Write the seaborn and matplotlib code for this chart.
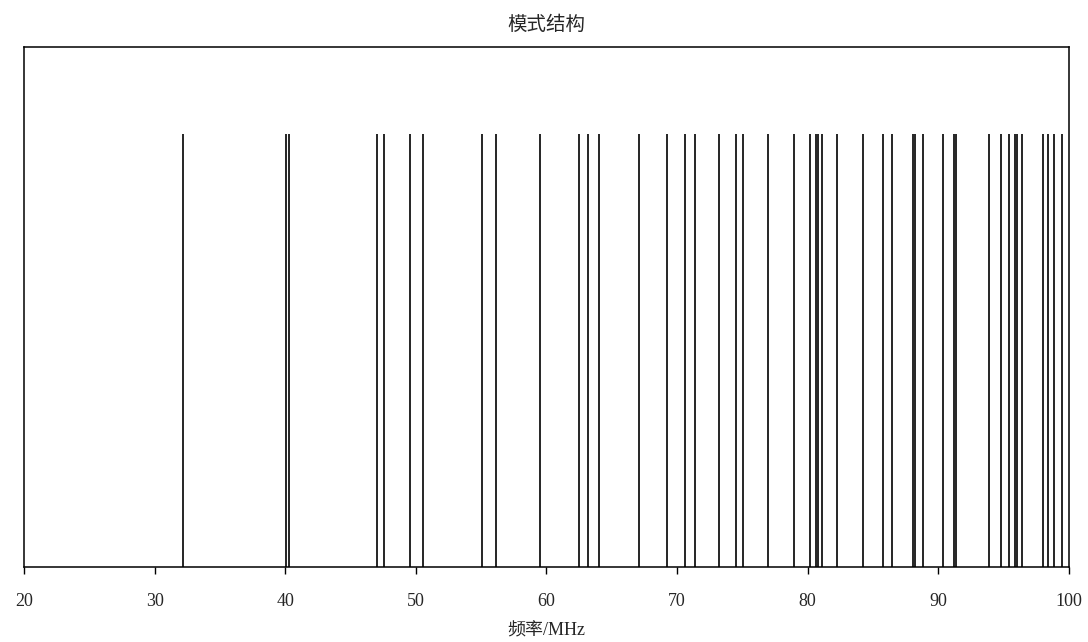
"""
Mode structure: spectral lines of the longitudinal modes.
"""

import matplotlib
matplotlib.use("Agg")
import matplotlib.pyplot as plt
import seaborn as sns
import numpy as np

# mode frequencies (MHz)
mode_freqs = [
    32.2, 40.05, 40.3, 47.0, 47.6, 49.55, 50.56, 55.1, 56.14, 59.5,
    62.47, 63.2, 64.06, 67.1, 69.2, 70.58, 71.34, 73.23, 74.54, 75.06,
    76.93, 78.97, 80.15, 80.6, 80.77, 81.08, 82.26, 84.26, 85.75, 86.49,
    88.05, 88.18, 88.8, 90.38, 91.22, 91.35, 93.9, 94.8, 95.39, 95.89,
    96.05, 96.38, 97.99, 98.37, 98.83, 99.44,
]
x_ticks = [20, 30, 40, 50, 60, 70, 80, 90, 100]
title_text = "模式结构"
xlabel_text = "频率/MHz"

sns.set_theme(style="white")
plt.rcParams["font.family"] = ["Liberation Serif", "Noto Sans CJK SC"]

fig = plt.figure(figsize=(10.88, 6.42), dpi=100)
ax = fig.add_axes([0.022, 0.117, 0.9605, 0.81])

# each mode drawn as a vertical line of equal height
sns.rugplot(x=mode_freqs, height=1 / 1.2, color="#000000", linewidth=1.2,
            alpha=1.0, expand_margins=False, ax=ax)

ax.set_xlim(20, 100)
ax.set_ylim(0, 1.2)
ax.set_xticks(x_ticks)
ax.set_xticklabels([str(t) for t in x_ticks], fontsize=13)
ax.set_yticks([])
ax.tick_params(axis="x", direction="out", length=5, width=1, pad=14,
               bottom=True, color="black")

for side in ["left", "right", "top", "bottom"]:
    ax.spines[side].set_color("black")
    ax.spines[side].set_linewidth(1.1)

ax.set_title(title_text, fontsize=14, pad=12)
ax.set_xlabel(xlabel_text, fontsize=13, labelpad=9)

fig.savefig("out.png", dpi=100)
plt.close(fig)
